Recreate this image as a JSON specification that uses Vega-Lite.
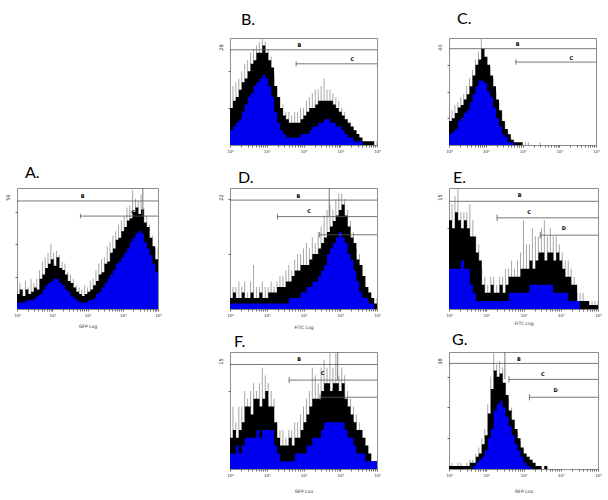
{
"$schema":"https://vega.github.io/schema/vega-lite/v6.json",
"background":"white",
"padding":{"left":4,"top":10,"right":0,"bottom":0},
"config":{
 "view":{"stroke":"#8c8c8c","strokeWidth":1},
 "axis":{"grid":false,"domain":false,"tickColor":"#444","tickSize":2,"tickWidth":0.8,"labelFont":"DejaVu Sans","labelFontSize":4,"labelColor":"#333","labelPadding":2,"titleFont":"DejaVu Sans","titleFontSize":4.5,"titleFontWeight":"normal","titleColor":"#333","titlePadding":7},
 "axisY":{"titleFontSize":5,"titleColor":"#222","titleAngle":270,"titleAlign":"center","titleBaseline":"middle","titleX":-10,"titleY":9},
 "title":{"font":"Lato","fontSize":16,"fontWeight":"normal","anchor":"start","frame":"group","color":"#000"},
 "text":{"font":"DejaVu Sans"}
},
"datasets":{
"S":[{"a":0}],
"A":[{"x":0,"b":3,"k":7,"g":10},{"x":0.08,"b":3,"k":9,"g":12},{"x":0.16,"b":3,"k":6,"g":9},{"x":0.24,"b":4,"k":9,"g":13},{"x":0.32,"b":4,"k":7,"g":10},{"x":0.4,"b":4,"k":8,"g":14},{"x":0.48,"b":5,"k":10,"g":12},{"x":0.56,"b":6,"k":9,"g":14},{"x":0.64,"b":7,"k":14,"g":18},{"x":0.72,"b":9,"k":16,"g":22},{"x":0.8,"b":11,"k":19,"g":24},{"x":0.88,"b":12,"k":21,"g":26},{"x":0.96,"b":13,"k":23,"g":30},{"x":1.04,"b":14,"k":20,"g":26},{"x":1.12,"b":14,"k":24,"g":27},{"x":1.2,"b":12,"k":19,"g":25},{"x":1.28,"b":11,"k":18,"g":22},{"x":1.36,"b":9,"k":16,"g":21},{"x":1.44,"b":8,"k":13,"g":17},{"x":1.52,"b":6,"k":12,"g":16},{"x":1.6,"b":5,"k":10,"g":14},{"x":1.68,"b":4,"k":8,"g":11},{"x":1.76,"b":3,"k":7,"g":10},{"x":1.84,"b":3,"k":6,"g":9},{"x":1.92,"b":3,"k":7,"g":11},{"x":2,"b":4,"k":8,"g":10},{"x":2.08,"b":4,"k":9,"g":13},{"x":2.16,"b":5,"k":11,"g":14},{"x":2.24,"b":7,"k":13,"g":18},{"x":2.32,"b":8,"k":16,"g":21},{"x":2.4,"b":10,"k":17,"g":23},{"x":2.48,"b":12,"k":21,"g":24},{"x":2.56,"b":14,"k":22,"g":29},{"x":2.64,"b":16,"k":26,"g":31},{"x":2.72,"b":18,"k":28,"g":34},{"x":2.8,"b":21,"k":32,"g":36},{"x":2.88,"b":22,"k":33,"g":39},{"x":2.96,"b":24,"k":36,"g":41},{"x":3.04,"b":26,"k":38,"g":43},{"x":3.12,"b":28,"k":41,"g":47},{"x":3.2,"b":31,"k":42,"g":48},{"x":3.28,"b":33,"k":45,"g":55},{"x":3.36,"b":35,"k":47,"g":51},{"x":3.44,"b":36,"k":44,"g":50},{"x":3.52,"b":35,"k":46,"g":53},{"x":3.6,"b":31,"k":40,"g":47},{"x":3.68,"b":28,"k":38,"g":43},{"x":3.76,"b":25,"k":33,"g":39},{"x":3.84,"b":21,"k":29,"g":34},{"x":3.92,"b":17,"k":23,"g":28},{"x":4,"b":17,"k":23,"g":28}],
"B":[{"x":0,"b":4,"k":10,"g":15},{"x":0.08,"b":5,"k":12,"g":16},{"x":0.16,"b":6,"k":13,"g":17},{"x":0.24,"b":7,"k":15,"g":18},{"x":0.32,"b":9,"k":17,"g":20},{"x":0.4,"b":11,"k":18,"g":22},{"x":0.48,"b":13,"k":20,"g":23},{"x":0.56,"b":14,"k":22,"g":25},{"x":0.64,"b":16,"k":23,"g":26},{"x":0.72,"b":17,"k":25,"g":27},{"x":0.8,"b":18,"k":25,"g":28},{"x":0.88,"b":19,"k":27,"g":29},{"x":0.96,"b":18,"k":25,"g":28},{"x":1.04,"b":16,"k":23,"g":26},{"x":1.12,"b":13,"k":21,"g":24},{"x":1.2,"b":9,"k":16,"g":19},{"x":1.28,"b":6,"k":13,"g":16},{"x":1.36,"b":4,"k":10,"g":13},{"x":1.44,"b":3,"k":8,"g":11},{"x":1.52,"b":2,"k":7,"g":9},{"x":1.6,"b":2,"k":6,"g":9},{"x":1.68,"b":2,"k":6,"g":8},{"x":1.76,"b":2,"k":6,"g":9},{"x":1.84,"b":2,"k":6,"g":9},{"x":1.92,"b":3,"k":7,"g":10},{"x":2,"b":3,"k":8,"g":10},{"x":2.08,"b":3,"k":9,"g":12},{"x":2.16,"b":4,"k":10,"g":13},{"x":2.24,"b":5,"k":10,"g":14},{"x":2.32,"b":5,"k":11,"g":15},{"x":2.4,"b":6,"k":12,"g":15},{"x":2.48,"b":6,"k":12,"g":16},{"x":2.56,"b":7,"k":12,"g":18},{"x":2.64,"b":7,"k":12,"g":15},{"x":2.72,"b":6,"k":12,"g":15},{"x":2.8,"b":6,"k":11,"g":14},{"x":2.88,"b":5,"k":10,"g":13},{"x":2.96,"b":5,"k":9,"g":12},{"x":3.04,"b":4,"k":8,"g":10},{"x":3.12,"b":3,"k":7,"g":9},{"x":3.2,"b":2,"k":6,"g":7},{"x":3.28,"b":2,"k":5,"g":6},{"x":3.36,"b":1,"k":4,"g":5},{"x":3.44,"b":1,"k":3,"g":4},{"x":3.52,"b":1,"k":2,"g":2},{"x":3.6,"b":0,"k":1,"g":2},{"x":3.68,"b":0,"k":1,"g":1},{"x":3.76,"b":0,"k":1,"g":1},{"x":3.84,"b":0,"k":1,"g":1},{"x":3.92,"b":0,"k":0,"g":1},{"x":4,"b":0,"k":0,"g":1}],
"C":[{"x":0,"b":4,"k":9,"g":12},{"x":0.08,"b":5,"k":10,"g":13},{"x":0.16,"b":6,"k":12,"g":15},{"x":0.24,"b":9,"k":14,"g":16},{"x":0.32,"b":10,"k":15,"g":18},{"x":0.4,"b":12,"k":17,"g":19},{"x":0.48,"b":13,"k":19,"g":22},{"x":0.56,"b":16,"k":22,"g":25},{"x":0.64,"b":19,"k":26,"g":28},{"x":0.72,"b":22,"k":30,"g":32},{"x":0.8,"b":24,"k":32,"g":35},{"x":0.88,"b":24,"k":36,"g":40},{"x":0.96,"b":23,"k":33,"g":36},{"x":1.04,"b":20,"k":30,"g":33},{"x":1.12,"b":18,"k":26,"g":29},{"x":1.2,"b":14,"k":22,"g":25},{"x":1.28,"b":10,"k":17,"g":20},{"x":1.36,"b":7,"k":13,"g":16},{"x":1.44,"b":4,"k":9,"g":12},{"x":1.52,"b":3,"k":6,"g":8},{"x":1.6,"b":1,"k":4,"g":5},{"x":1.68,"b":1,"k":2,"g":3},{"x":1.76,"b":0,"k":1,"g":2},{"x":1.84,"b":0,"k":1,"g":1},{"x":1.92,"b":0,"k":1,"g":1},{"x":2,"b":0,"k":0,"g":1},{"x":2.08,"b":0,"k":0,"g":1},{"x":2.16,"b":0,"k":0,"g":1},{"x":2.24,"b":0,"k":0,"g":0},{"x":2.32,"b":0,"k":0,"g":0},{"x":2.4,"b":0,"k":0,"g":0},{"x":2.48,"b":0,"k":0,"g":1},{"x":2.56,"b":0,"k":0,"g":0},{"x":2.64,"b":0,"k":0,"g":0},{"x":2.72,"b":0,"k":0,"g":0},{"x":2.8,"b":0,"k":0,"g":0},{"x":2.88,"b":0,"k":0,"g":0},{"x":2.96,"b":0,"k":0,"g":0},{"x":3.04,"b":0,"k":0,"g":0},{"x":3.12,"b":0,"k":0,"g":0},{"x":3.2,"b":0,"k":0,"g":0},{"x":3.28,"b":0,"k":0,"g":0},{"x":3.36,"b":0,"k":0,"g":0},{"x":3.44,"b":0,"k":0,"g":0},{"x":3.52,"b":0,"k":0,"g":0},{"x":3.6,"b":0,"k":0,"g":0},{"x":3.68,"b":0,"k":0,"g":0},{"x":3.76,"b":0,"k":0,"g":0},{"x":3.84,"b":0,"k":0,"g":0},{"x":3.92,"b":0,"k":0,"g":0},{"x":4,"b":0,"k":0,"g":0}],
"D":[{"x":0,"b":1,"k":2,"g":4},{"x":0.08,"b":1,"k":3,"g":4},{"x":0.16,"b":1,"k":2,"g":4},{"x":0.24,"b":1,"k":2,"g":5},{"x":0.32,"b":1,"k":3,"g":4},{"x":0.4,"b":1,"k":2,"g":5},{"x":0.48,"b":1,"k":2,"g":3},{"x":0.56,"b":1,"k":3,"g":5},{"x":0.64,"b":1,"k":2,"g":8},{"x":0.72,"b":1,"k":2,"g":4},{"x":0.8,"b":1,"k":3,"g":4},{"x":0.88,"b":1,"k":2,"g":5},{"x":0.96,"b":1,"k":2,"g":4},{"x":1.04,"b":1,"k":3,"g":4},{"x":1.12,"b":1,"k":3,"g":5},{"x":1.2,"b":1,"k":3,"g":4},{"x":1.28,"b":1,"k":4,"g":5},{"x":1.36,"b":1,"k":4,"g":6},{"x":1.44,"b":1,"k":4,"g":6},{"x":1.52,"b":1,"k":5,"g":7},{"x":1.6,"b":2,"k":5,"g":8},{"x":1.68,"b":2,"k":6,"g":7},{"x":1.76,"b":2,"k":7,"g":9},{"x":1.84,"b":2,"k":7,"g":10},{"x":1.92,"b":3,"k":8,"g":10},{"x":2,"b":3,"k":8,"g":11},{"x":2.08,"b":4,"k":8,"g":12},{"x":2.16,"b":4,"k":9,"g":11},{"x":2.24,"b":5,"k":10,"g":13},{"x":2.32,"b":5,"k":10,"g":12},{"x":2.4,"b":6,"k":11,"g":14},{"x":2.48,"b":7,"k":12,"g":15},{"x":2.56,"b":8,"k":13,"g":17},{"x":2.64,"b":10,"k":14,"g":18},{"x":2.72,"b":11,"k":15,"g":19},{"x":2.8,"b":12,"k":16,"g":18},{"x":2.88,"b":13,"k":17,"g":20},{"x":2.96,"b":14,"k":18,"g":21},{"x":3.04,"b":13,"k":19,"g":21},{"x":3.12,"b":12,"k":17,"g":20},{"x":3.2,"b":10,"k":15,"g":18},{"x":3.28,"b":9,"k":13,"g":16},{"x":3.36,"b":7,"k":12,"g":14},{"x":3.44,"b":5,"k":9,"g":11},{"x":3.52,"b":3,"k":8,"g":10},{"x":3.6,"b":2,"k":6,"g":8},{"x":3.68,"b":2,"k":4,"g":6},{"x":3.76,"b":1,"k":3,"g":4},{"x":3.84,"b":1,"k":2,"g":3},{"x":3.92,"b":0,"k":1,"g":2},{"x":4,"b":0,"k":1,"g":2}],
"E":[{"x":0,"b":5,"k":11,"g":14},{"x":0.08,"b":5,"k":10,"g":13},{"x":0.16,"b":5,"k":12,"g":14},{"x":0.24,"b":5,"k":11,"g":15},{"x":0.32,"b":6,"k":10,"g":12},{"x":0.4,"b":5,"k":11,"g":12},{"x":0.48,"b":5,"k":10,"g":12},{"x":0.56,"b":3,"k":9,"g":13},{"x":0.64,"b":2,"k":9,"g":11},{"x":0.72,"b":1,"k":7,"g":9},{"x":0.8,"b":1,"k":6,"g":8},{"x":0.88,"b":1,"k":3,"g":5},{"x":0.96,"b":1,"k":2,"g":4},{"x":1.04,"b":1,"k":2,"g":3},{"x":1.12,"b":1,"k":3,"g":4},{"x":1.2,"b":1,"k":2,"g":4},{"x":1.28,"b":1,"k":2,"g":3},{"x":1.36,"b":1,"k":3,"g":4},{"x":1.44,"b":1,"k":2,"g":4},{"x":1.52,"b":1,"k":3,"g":5},{"x":1.6,"b":2,"k":4,"g":5},{"x":1.68,"b":2,"k":4,"g":6},{"x":1.76,"b":2,"k":4,"g":5},{"x":1.84,"b":2,"k":4,"g":6},{"x":1.92,"b":2,"k":5,"g":7},{"x":2,"b":2,"k":5,"g":11},{"x":2.08,"b":2,"k":5,"g":8},{"x":2.16,"b":3,"k":6,"g":8},{"x":2.24,"b":3,"k":5,"g":10},{"x":2.32,"b":3,"k":6,"g":9},{"x":2.4,"b":3,"k":7,"g":9},{"x":2.48,"b":3,"k":7,"g":10},{"x":2.56,"b":3,"k":6,"g":11},{"x":2.64,"b":3,"k":7,"g":9},{"x":2.72,"b":3,"k":7,"g":10},{"x":2.8,"b":2,"k":6,"g":9},{"x":2.88,"b":2,"k":7,"g":9},{"x":2.96,"b":2,"k":6,"g":8},{"x":3.04,"b":2,"k":5,"g":7},{"x":3.12,"b":2,"k":4,"g":6},{"x":3.2,"b":1,"k":4,"g":6},{"x":3.28,"b":1,"k":3,"g":5},{"x":3.36,"b":1,"k":3,"g":4},{"x":3.44,"b":1,"k":1,"g":2},{"x":3.52,"b":0,"k":1,"g":2},{"x":3.6,"b":0,"k":1,"g":2},{"x":3.68,"b":0,"k":1,"g":1},{"x":3.76,"b":0,"k":0.5,"g":1},{"x":3.84,"b":0,"k":0.5,"g":1},{"x":3.92,"b":0,"k":0.5,"g":1},{"x":4,"b":0,"k":0.5,"g":1}],
"F":[{"x":0,"b":2,"k":4,"g":6},{"x":0.08,"b":2,"k":5,"g":8},{"x":0.16,"b":3,"k":4,"g":6},{"x":0.24,"b":2,"k":5,"g":8},{"x":0.32,"b":3,"k":6,"g":8},{"x":0.4,"b":4,"k":8,"g":10},{"x":0.48,"b":4,"k":8,"g":9},{"x":0.56,"b":4,"k":7,"g":10},{"x":0.64,"b":4,"k":9,"g":11},{"x":0.72,"b":5,"k":9,"g":10},{"x":0.8,"b":4,"k":8,"g":11},{"x":0.88,"b":5,"k":9,"g":13},{"x":0.96,"b":5,"k":10,"g":12},{"x":1.04,"b":5,"k":8,"g":11},{"x":1.12,"b":5,"k":8,"g":10},{"x":1.2,"b":3,"k":6,"g":9},{"x":1.28,"b":2,"k":4,"g":6},{"x":1.36,"b":1,"k":3,"g":5},{"x":1.44,"b":1,"k":3,"g":5},{"x":1.52,"b":1,"k":3,"g":4},{"x":1.6,"b":1,"k":4,"g":5},{"x":1.68,"b":1,"k":3,"g":5},{"x":1.76,"b":2,"k":4,"g":6},{"x":1.84,"b":2,"k":4,"g":6},{"x":1.92,"b":2,"k":5,"g":7},{"x":2,"b":2,"k":6,"g":8},{"x":2.08,"b":3,"k":7,"g":9},{"x":2.16,"b":3,"k":8,"g":10},{"x":2.24,"b":4,"k":9,"g":13},{"x":2.32,"b":4,"k":9,"g":12},{"x":2.4,"b":4,"k":9,"g":11},{"x":2.48,"b":5,"k":10,"g":13},{"x":2.56,"b":6,"k":11,"g":14},{"x":2.64,"b":6,"k":11,"g":13},{"x":2.72,"b":6,"k":10,"g":15},{"x":2.8,"b":6,"k":11,"g":13},{"x":2.88,"b":6,"k":11,"g":15},{"x":2.96,"b":6,"k":10,"g":12},{"x":3.04,"b":6,"k":11,"g":13},{"x":3.12,"b":5,"k":9,"g":12},{"x":3.2,"b":4,"k":8,"g":10},{"x":3.28,"b":4,"k":7,"g":9},{"x":3.36,"b":3,"k":6,"g":8},{"x":3.44,"b":2,"k":5,"g":7},{"x":3.52,"b":2,"k":5,"g":6},{"x":3.6,"b":2,"k":4,"g":5},{"x":3.68,"b":1,"k":3,"g":4},{"x":3.76,"b":1,"k":2,"g":3},{"x":3.84,"b":1,"k":1,"g":2},{"x":3.92,"b":1,"k":1,"g":1},{"x":4,"b":1,"k":1,"g":1}],
"G":[{"x":0,"b":0,"k":1,"g":2},{"x":0.08,"b":0,"k":1,"g":2},{"x":0.16,"b":0,"k":1,"g":1},{"x":0.24,"b":0,"k":1,"g":2},{"x":0.32,"b":0,"k":1,"g":2},{"x":0.4,"b":0,"k":1,"g":1},{"x":0.48,"b":0,"k":1,"g":2},{"x":0.56,"b":0,"k":2,"g":3},{"x":0.64,"b":1,"k":2,"g":3},{"x":0.72,"b":2,"k":4,"g":5},{"x":0.8,"b":3,"k":5,"g":7},{"x":0.88,"b":4,"k":8,"g":10},{"x":0.96,"b":6,"k":11,"g":13},{"x":1.04,"b":10,"k":18,"g":21},{"x":1.12,"b":13,"k":26,"g":30},{"x":1.2,"b":19,"k":32,"g":38},{"x":1.28,"b":21,"k":30,"g":34},{"x":1.36,"b":22,"k":31,"g":35},{"x":1.44,"b":20,"k":28,"g":33},{"x":1.52,"b":17,"k":24,"g":28},{"x":1.6,"b":14,"k":19,"g":23},{"x":1.68,"b":11,"k":16,"g":20},{"x":1.76,"b":8,"k":13,"g":16},{"x":1.84,"b":6,"k":10,"g":12},{"x":1.92,"b":4,"k":7,"g":9},{"x":2,"b":2,"k":5,"g":7},{"x":2.08,"b":1,"k":4,"g":5},{"x":2.16,"b":0.5,"k":3,"g":4},{"x":2.24,"b":0,"k":2,"g":3},{"x":2.32,"b":0,"k":1,"g":2},{"x":2.4,"b":0,"k":1,"g":1},{"x":2.48,"b":0,"k":0,"g":1},{"x":2.56,"b":0,"k":1,"g":1},{"x":2.64,"b":0,"k":0,"g":0},{"x":2.72,"b":0,"k":0,"g":0},{"x":2.8,"b":0,"k":0,"g":0},{"x":2.88,"b":0,"k":0,"g":0},{"x":2.96,"b":0,"k":0,"g":0},{"x":3.04,"b":0,"k":0,"g":0},{"x":3.12,"b":0,"k":0,"g":0},{"x":3.2,"b":0,"k":0,"g":0},{"x":3.28,"b":0,"k":0,"g":0},{"x":3.36,"b":0,"k":0,"g":0},{"x":3.44,"b":0,"k":0,"g":0},{"x":3.52,"b":0,"k":0,"g":0},{"x":3.6,"b":0,"k":0,"g":0},{"x":3.68,"b":0,"k":0,"g":0},{"x":3.76,"b":0,"k":0,"g":0},{"x":3.84,"b":0,"k":0,"g":0},{"x":3.92,"b":0,"k":0,"g":0},{"x":4,"b":0,"k":0,"g":0}],
"gates":[
{"p":"A","x":0,"x2":4,"y":50,"y2":50},{"p":"A","x":1.8,"x2":4,"y":43,"y2":43},{"p":"A","x":1.8,"x2":1.8,"y":42,"y2":44},{"p":"A","x":3.57,"x2":3.57,"y":56,"y2":43},
{"p":"B","x":0,"x2":4,"y":25.8,"y2":25.8},{"p":"B","x":1.8,"x2":4,"y":22,"y2":22},{"p":"B","x":1.8,"x2":1.8,"y":21.3,"y2":22.7},
{"p":"C","x":0,"x2":4,"y":36,"y2":36},{"p":"C","x":1.82,"x2":4,"y":31,"y2":31},{"p":"C","x":1.82,"x2":1.82,"y":30,"y2":32},
{"p":"D","x":0,"x2":4,"y":19.8,"y2":19.8},{"p":"D","x":1.29,"x2":4,"y":16.8,"y2":16.8},{"p":"D","x":1.29,"x2":1.29,"y":16.3,"y2":17.3},{"p":"D","x":2.44,"x2":4,"y":13.5,"y2":13.5},{"p":"D","x":2.44,"x2":2.44,"y":13,"y2":14},{"p":"D","x":2.7,"x2":2.7,"y":22,"y2":16.8},
{"p":"E","x":0,"x2":4,"y":13.35,"y2":13.35},{"p":"E","x":1.29,"x2":4,"y":11.3,"y2":11.3},{"p":"E","x":1.29,"x2":1.29,"y":10.9,"y2":11.7},{"p":"E","x":2.45,"x2":4,"y":9.15,"y2":9.15},{"p":"E","x":2.45,"x2":2.45,"y":8.75,"y2":9.55},
{"p":"F","x":0,"x2":4,"y":13.4,"y2":13.4},{"p":"F","x":1.61,"x2":4,"y":11.4,"y2":11.4},{"p":"F","x":1.61,"x2":1.61,"y":11,"y2":11.8},{"p":"F","x":2.45,"x2":4,"y":9.2,"y2":9.2},{"p":"F","x":2.45,"x2":2.45,"y":8.8,"y2":9.6},{"p":"F","x":2.93,"x2":2.93,"y":15,"y2":11.4},
{"p":"G","x":0,"x2":4,"y":34.3,"y2":34.3},{"p":"G","x":1.61,"x2":4,"y":29.1,"y2":29.1},{"p":"G","x":1.61,"x2":1.61,"y":28.1,"y2":30.1},{"p":"G","x":2.16,"x2":4,"y":23.3,"y2":23.3},{"p":"G","x":2.16,"x2":2.16,"y":22.3,"y2":24.3},{"p":"G","x":1.5,"x2":1.5,"y":38,"y2":29.1}
],
"glabels":[
{"p":"A","t":"B","x":1.86,"y":52.5},{"p":"A","t":"C","x":3.29,"y":45},
{"p":"B","t":"B","x":1.89,"y":27.2},{"p":"B","t":"C","x":3.33,"y":23.3},
{"p":"C","t":"B","x":1.87,"y":37.6},{"p":"C","t":"C","x":3.33,"y":32.5},
{"p":"D","t":"B","x":1.86,"y":20.6},{"p":"D","t":"C","x":2.15,"y":17.8},{"p":"D","t":"D","x":3.06,"y":14.6},
{"p":"E","t":"B","x":1.9,"y":14.1},{"p":"E","t":"C","x":2.15,"y":12.0},{"p":"E","t":"D","x":3.08,"y":10.0},
{"p":"F","t":"B","x":1.88,"y":14.1},{"p":"F","t":"C","x":2.52,"y":12.3},{"p":"F","t":"D","x":2.84,"y":10.1},
{"p":"G","t":"B","x":1.88,"y":35.7},{"p":"G","t":"C","x":2.52,"y":30.8},{"p":"G","t":"D","x":2.86,"y":25.8}
]
},
"columns":3,
"spacing":{"row":43,"column":72},
"bounds":"flush",
"align":"each",
"concat":[
  {"width":141,"height":107,"data":{"name":"S"},"mark":{"type":"point","opacity":0},"encoding":{"x":{"field":"a","type":"quantitative","axis":null},"y":{"field":"a","type":"quantitative","axis":null}},"view":{"stroke":null}},
  {"width":147,"height":107,"title":{"text":"B.","offset":10,"dx":11},"data":{"name":"B"},
   "encoding":{"x":{"field":"x","type":"quantitative","scale":{"domain":[0,4],"nice":false,"zero":false},"axis":{"title":null,"values":[0,0.301,0.477,0.602,0.699,0.778,0.845,0.903,0.954,1,1.301,1.477,1.602,1.699,1.778,1.845,1.903,1.954,2,2.301,2.477,2.602,2.699,2.778,2.845,2.903,2.954,3,3.301,3.477,3.602,3.699,3.778,3.845,3.903,3.954,4],"labelExpr":"datum.value % 1 === 0 ? '10' + ['⁰','¹','²','³','⁴'][datum.value] : ''","labelOverlap":false,"labelFlush":false}}},
   "layer":[
    {"mark":{"type":"rule","color":"#909090","strokeWidth":0.8,"clip":true},"encoding":{"y":{"field":"g","type":"quantitative","scale":{"domain":[0,29]},"axis":{"title":"29","values":[10,20],"labels":false}},"y2":{"datum":0}}},
    {"mark":{"type":"area","interpolate":"step-after","color":"#000000","clip":true},"encoding":{"y":{"field":"k","type":"quantitative","scale":{"domain":[0,29]},"axis":{"title":"29","values":[10,20],"labels":false}}}},
    {"mark":{"type":"area","interpolate":"step-after","color":"#0000f0","clip":true},"encoding":{"y":{"field":"b","type":"quantitative","scale":{"domain":[0,29]},"axis":{"title":"29","values":[10,20],"labels":false}}}},
    {"data":{"name":"gates"},"transform":[{"filter":"datum.p === 'B'"}],"mark":{"type":"rule","color":"#555555","strokeWidth":0.8},"encoding":{"x2":{"field":"x2"},"y":{"field":"y","type":"quantitative","scale":{"domain":[0,29]},"axis":{"title":"29","values":[10,20],"labels":false}},"y2":{"field":"y2"}}},
    {"data":{"name":"glabels"},"transform":[{"filter":"datum.p === 'B'"}],"mark":{"type":"text","fontSize":5,"fontWeight":"bold","color":"#000"},"encoding":{"y":{"field":"y","type":"quantitative","scale":{"domain":[0,29]},"axis":{"title":"29","values":[10,20],"labels":false}},"text":{"field":"t"}}}
   ]},
  {"width":147,"height":107,"title":{"text":"C.","offset":11,"dx":8},"data":{"name":"C"},
   "encoding":{"x":{"field":"x","type":"quantitative","scale":{"domain":[0,4],"nice":false,"zero":false},"axis":{"title":null,"values":[0,0.301,0.477,0.602,0.699,0.778,0.845,0.903,0.954,1,1.301,1.477,1.602,1.699,1.778,1.845,1.903,1.954,2,2.301,2.477,2.602,2.699,2.778,2.845,2.903,2.954,3,3.301,3.477,3.602,3.699,3.778,3.845,3.903,3.954,4],"labelExpr":"datum.value % 1 === 0 ? '10' + ['⁰','¹','²','³','⁴'][datum.value] : ''","labelOverlap":false,"labelFlush":false}}},
   "layer":[
    {"mark":{"type":"rule","color":"#909090","strokeWidth":0.8,"clip":true},"encoding":{"y":{"field":"g","type":"quantitative","scale":{"domain":[0,40]},"axis":{"title":"40","values":[10,20,30],"labels":false}},"y2":{"datum":0}}},
    {"mark":{"type":"area","interpolate":"step-after","color":"#000000","clip":true},"encoding":{"y":{"field":"k","type":"quantitative","scale":{"domain":[0,40]},"axis":{"title":"40","values":[10,20,30],"labels":false}}}},
    {"mark":{"type":"area","interpolate":"step-after","color":"#0000f0","clip":true},"encoding":{"y":{"field":"b","type":"quantitative","scale":{"domain":[0,40]},"axis":{"title":"40","values":[10,20,30],"labels":false}}}},
    {"data":{"name":"gates"},"transform":[{"filter":"datum.p === 'C'"}],"mark":{"type":"rule","color":"#555555","strokeWidth":0.8},"encoding":{"x2":{"field":"x2"},"y":{"field":"y","type":"quantitative","scale":{"domain":[0,40]},"axis":{"title":"40","values":[10,20,30],"labels":false}},"y2":{"field":"y2"}}},
    {"data":{"name":"glabels"},"transform":[{"filter":"datum.p === 'C'"}],"mark":{"type":"text","fontSize":5,"fontWeight":"bold","color":"#000"},"encoding":{"y":{"field":"y","type":"quantitative","scale":{"domain":[0,40]},"axis":{"title":"40","values":[10,20,30],"labels":false}},"text":{"field":"t"}}}
   ]},
   {"width":141,"height":121,"title":{"text":"A.","offset":7,"dx":8},"data":{"name":"A"},
    "encoding":{"x":{"field":"x","type":"quantitative","scale":{"domain":[0,4],"nice":false,"zero":false},"axis":{"title":"GFP Log","values":[0,0.301,0.477,0.602,0.699,0.778,0.845,0.903,0.954,1,1.301,1.477,1.602,1.699,1.778,1.845,1.903,1.954,2,2.301,2.477,2.602,2.699,2.778,2.845,2.903,2.954,3,3.301,3.477,3.602,3.699,3.778,3.845,3.903,3.954,4],"labelExpr":"datum.value % 1 === 0 ? '10' + ['⁰','¹','²','³','⁴'][datum.value] : ''","labelOverlap":false,"labelFlush":false,"titlePadding":6}}},
    "layer":[
     {"mark":{"type":"rule","color":"#909090","strokeWidth":0.8,"clip":true},"encoding":{"y":{"field":"g","type":"quantitative","scale":{"domain":[0,56]},"axis":{"title":"56","values":[15,30,45],"labels":false}},"y2":{"datum":0}}},
     {"mark":{"type":"area","interpolate":"step-after","color":"#000000","clip":true},"encoding":{"y":{"field":"k","type":"quantitative","scale":{"domain":[0,56]},"axis":{"title":"56","values":[15,30,45],"labels":false}}}},
     {"mark":{"type":"area","interpolate":"step-after","color":"#0000f0","clip":true},"encoding":{"y":{"field":"b","type":"quantitative","scale":{"domain":[0,56]},"axis":{"title":"56","values":[15,30,45],"labels":false}}}},
     {"data":{"name":"gates"},"transform":[{"filter":"datum.p === 'A'"}],"mark":{"type":"rule","color":"#555555","strokeWidth":0.8},"encoding":{"x2":{"field":"x2"},"y":{"field":"y","type":"quantitative","scale":{"domain":[0,56]},"axis":{"title":"56","values":[15,30,45],"labels":false}},"y2":{"field":"y2"}}},
     {"data":{"name":"glabels"},"transform":[{"filter":"datum.p === 'A'"}],"mark":{"type":"text","fontSize":5,"fontWeight":"bold","color":"#000"},"encoding":{"y":{"field":"y","type":"quantitative","scale":{"domain":[0,56]},"axis":{"title":"56","values":[15,30,45],"labels":false}},"text":{"field":"t"}}}
    ]},
   {"width":147,"height":121,"title":{"text":"D.","offset":2,"dx":8},"data":{"name":"D"},
    "encoding":{"x":{"field":"x","type":"quantitative","scale":{"domain":[0,4],"nice":false,"zero":false},"axis":{"title":"FITC Log","values":[0,0.301,0.477,0.602,0.699,0.778,0.845,0.903,0.954,1,1.301,1.477,1.602,1.699,1.778,1.845,1.903,1.954,2,2.301,2.477,2.602,2.699,2.778,2.845,2.903,2.954,3,3.301,3.477,3.602,3.699,3.778,3.845,3.903,3.954,4],"labelExpr":"datum.value % 1 === 0 ? '10' + ['⁰','¹','²','³','⁴'][datum.value] : ''","labelOverlap":false,"labelFlush":false,"titlePadding":7}}},
    "layer":[
     {"mark":{"type":"rule","color":"#909090","strokeWidth":0.8,"clip":true},"encoding":{"y":{"field":"g","type":"quantitative","scale":{"domain":[0,22]},"axis":{"title":"22","values":[10,20],"labels":false}},"y2":{"datum":0}}},
     {"mark":{"type":"area","interpolate":"step-after","color":"#000000","clip":true},"encoding":{"y":{"field":"k","type":"quantitative","scale":{"domain":[0,22]},"axis":{"title":"22","values":[10,20],"labels":false}}}},
     {"mark":{"type":"area","interpolate":"step-after","color":"#0000f0","clip":true},"encoding":{"y":{"field":"b","type":"quantitative","scale":{"domain":[0,22]},"axis":{"title":"22","values":[10,20],"labels":false}}}},
     {"data":{"name":"gates"},"transform":[{"filter":"datum.p === 'D'"}],"mark":{"type":"rule","color":"#555555","strokeWidth":0.8},"encoding":{"x2":{"field":"x2"},"y":{"field":"y","type":"quantitative","scale":{"domain":[0,22]},"axis":{"title":"22","values":[10,20],"labels":false}},"y2":{"field":"y2"}}},
     {"data":{"name":"glabels"},"transform":[{"filter":"datum.p === 'D'"}],"mark":{"type":"text","fontSize":5,"fontWeight":"bold","color":"#000"},"encoding":{"y":{"field":"y","type":"quantitative","scale":{"domain":[0,22]},"axis":{"title":"22","values":[10,20],"labels":false}},"text":{"field":"t"}}}
    ]},
   {"width":149,"height":121,"title":{"text":"E.","offset":2,"dx":4},"data":{"name":"E"},
    "encoding":{"x":{"field":"x","type":"quantitative","scale":{"domain":[0,4],"nice":false,"zero":false},"axis":{"title":"FITC Log","values":[0,0.301,0.477,0.602,0.699,0.778,0.845,0.903,0.954,1,1.301,1.477,1.602,1.699,1.778,1.845,1.903,1.954,2,2.301,2.477,2.602,2.699,2.778,2.845,2.903,2.954,3,3.301,3.477,3.602,3.699,3.778,3.845,3.903,3.954,4],"labelExpr":"datum.value % 1 === 0 ? '10' + ['⁰','¹','²','³','⁴'][datum.value] : ''","labelOverlap":false,"labelFlush":false,"titlePadding":3}}},
    "layer":[
     {"mark":{"type":"rule","color":"#909090","strokeWidth":0.8,"clip":true},"encoding":{"y":{"field":"g","type":"quantitative","scale":{"domain":[0,15]},"axis":{"title":"15","values":[10],"labels":false}},"y2":{"datum":0}}},
     {"mark":{"type":"area","interpolate":"step-after","color":"#000000","clip":true},"encoding":{"y":{"field":"k","type":"quantitative","scale":{"domain":[0,15]},"axis":{"title":"15","values":[10],"labels":false}}}},
     {"mark":{"type":"area","interpolate":"step-after","color":"#0000f0","clip":true},"encoding":{"y":{"field":"b","type":"quantitative","scale":{"domain":[0,15]},"axis":{"title":"15","values":[10],"labels":false}}}},
     {"data":{"name":"gates"},"transform":[{"filter":"datum.p === 'E'"}],"mark":{"type":"rule","color":"#555555","strokeWidth":0.8},"encoding":{"x2":{"field":"x2"},"y":{"field":"y","type":"quantitative","scale":{"domain":[0,15]},"axis":{"title":"15","values":[10],"labels":false}},"y2":{"field":"y2"}}},
     {"data":{"name":"glabels"},"transform":[{"filter":"datum.p === 'E'"}],"mark":{"type":"text","fontSize":5,"fontWeight":"bold","color":"#000"},"encoding":{"y":{"field":"y","type":"quantitative","scale":{"domain":[0,15]},"axis":{"title":"15","values":[10],"labels":false}},"text":{"field":"t"}}}
    ]},
   {"width":141,"height":117,"data":{"name":"S"},"mark":{"type":"point","opacity":0},"encoding":{"x":{"field":"a","type":"quantitative","axis":null},"y":{"field":"a","type":"quantitative","axis":null}},"view":{"stroke":null}},
   {"width":147,"height":117,"title":{"text":"F.","offset":2,"dx":4},"data":{"name":"F"},
    "encoding":{"x":{"field":"x","type":"quantitative","scale":{"domain":[0,4],"nice":false,"zero":false},"axis":{"title":"GFP Log","values":[0,0.301,0.477,0.602,0.699,0.778,0.845,0.903,0.954,1,1.301,1.477,1.602,1.699,1.778,1.845,1.903,1.954,2,2.301,2.477,2.602,2.699,2.778,2.845,2.903,2.954,3,3.301,3.477,3.602,3.699,3.778,3.845,3.903,3.954,4],"labelExpr":"datum.value % 1 === 0 ? '10' + ['⁰','¹','²','³','⁴'][datum.value] : ''","labelOverlap":false,"labelFlush":false,"titlePadding":11}}},
    "layer":[
     {"mark":{"type":"rule","color":"#909090","strokeWidth":0.8,"clip":true},"encoding":{"y":{"field":"g","type":"quantitative","scale":{"domain":[0,15]},"axis":{"title":"15","values":[10],"labels":false}},"y2":{"datum":0}}},
     {"mark":{"type":"area","interpolate":"step-after","color":"#000000","clip":true},"encoding":{"y":{"field":"k","type":"quantitative","scale":{"domain":[0,15]},"axis":{"title":"15","values":[10],"labels":false}}}},
     {"mark":{"type":"area","interpolate":"step-after","color":"#0000f0","clip":true},"encoding":{"y":{"field":"b","type":"quantitative","scale":{"domain":[0,15]},"axis":{"title":"15","values":[10],"labels":false}}}},
     {"data":{"name":"gates"},"transform":[{"filter":"datum.p === 'F'"}],"mark":{"type":"rule","color":"#555555","strokeWidth":0.8},"encoding":{"x2":{"field":"x2"},"y":{"field":"y","type":"quantitative","scale":{"domain":[0,15]},"axis":{"title":"15","values":[10],"labels":false}},"y2":{"field":"y2"}}},
     {"data":{"name":"glabels"},"transform":[{"filter":"datum.p === 'F'"}],"mark":{"type":"text","fontSize":5,"fontWeight":"bold","color":"#000"},"encoding":{"y":{"field":"y","type":"quantitative","scale":{"domain":[0,15]},"axis":{"title":"15","values":[10],"labels":false}},"text":{"field":"t"}}}
    ]},
   {"width":149,"height":117,"title":{"text":"G.","offset":4,"dx":3},"data":{"name":"G"},
    "encoding":{"x":{"field":"x","type":"quantitative","scale":{"domain":[0,4],"nice":false,"zero":false},"axis":{"title":"GFP Log","values":[0,0.301,0.477,0.602,0.699,0.778,0.845,0.903,0.954,1,1.301,1.477,1.602,1.699,1.778,1.845,1.903,1.954,2,2.301,2.477,2.602,2.699,2.778,2.845,2.903,2.954,3,3.301,3.477,3.602,3.699,3.778,3.845,3.903,3.954,4],"labelExpr":"datum.value % 1 === 0 ? '10' + ['⁰','¹','²','³','⁴'][datum.value] : ''","labelOverlap":false,"labelFlush":false,"titlePadding":11}}},
    "layer":[
     {"mark":{"type":"rule","color":"#909090","strokeWidth":0.8,"clip":true},"encoding":{"y":{"field":"g","type":"quantitative","scale":{"domain":[0,38]},"axis":{"title":"38","values":[10,20,30],"labels":false}},"y2":{"datum":0}}},
     {"mark":{"type":"area","interpolate":"step-after","color":"#000000","clip":true},"encoding":{"y":{"field":"k","type":"quantitative","scale":{"domain":[0,38]},"axis":{"title":"38","values":[10,20,30],"labels":false}}}},
     {"mark":{"type":"area","interpolate":"step-after","color":"#0000f0","clip":true},"encoding":{"y":{"field":"b","type":"quantitative","scale":{"domain":[0,38]},"axis":{"title":"38","values":[10,20,30],"labels":false}}}},
     {"data":{"name":"gates"},"transform":[{"filter":"datum.p === 'G'"}],"mark":{"type":"rule","color":"#555555","strokeWidth":0.8},"encoding":{"x2":{"field":"x2"},"y":{"field":"y","type":"quantitative","scale":{"domain":[0,38]},"axis":{"title":"38","values":[10,20,30],"labels":false}},"y2":{"field":"y2"}}},
     {"data":{"name":"glabels"},"transform":[{"filter":"datum.p === 'G'"}],"mark":{"type":"text","fontSize":5,"fontWeight":"bold","color":"#000"},"encoding":{"y":{"field":"y","type":"quantitative","scale":{"domain":[0,38]},"axis":{"title":"38","values":[10,20,30],"labels":false}},"text":{"field":"t"}}}
    ]}
]
}
